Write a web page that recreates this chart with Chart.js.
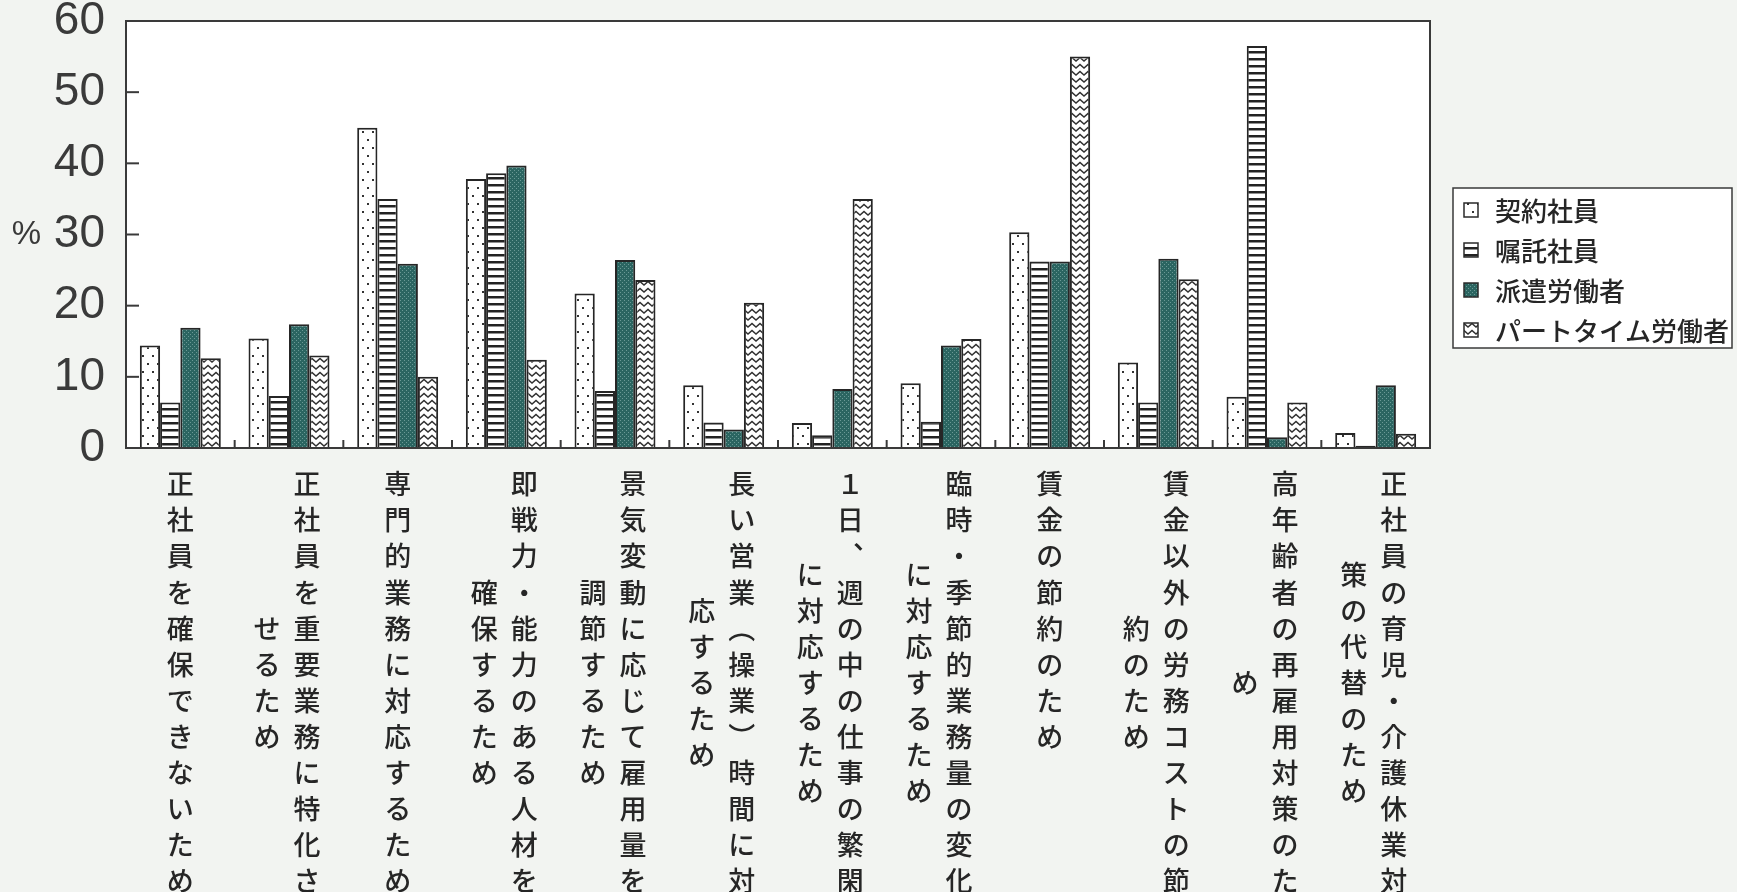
<!DOCTYPE html>
<html>
<head>
<meta charset="utf-8">
<script src="https://cdn.jsdelivr.net/npm/chart.js@4"></script>
<style>
html,body{margin:0;padding:0;background:#f2f4f1;}
#wrap{width:1737px;height:892px;position:relative;overflow:hidden;}
canvas{display:block;}
</style>
</head>
<body>
<div id="wrap"><canvas id="c" width="1737" height="892"></canvas></div>
<script>
// ---- data ----
const categories = [
  "正社員を確保できないため",
  "正社員を重要業務に特化させるため",
  "専門的業務に対応するため",
  "即戦力・能力のある人材を確保するため",
  "景気変動に応じて雇用量を調節するため",
  "長い営業（操業）時間に対応するため",
  "１日、週の中の仕事の繁閑に対応するため",
  "臨時・季節的業務量の変化に対応するため",
  "賃金の節約のため",
  "賃金以外の労務コストの節約のため",
  "高年齢者の再雇用対策のため",
  "正社員の育児・介護休業対策の代替のため"
];
const seriesNames = ["契約社員", "嘱託社員", "派遣労働者", "パートタイム労働者"];
const keiyaku   = [14.4, 15.4, 45.0, 37.8, 21.7, 8.8, 3.5, 9.1, 30.3, 12.0, 7.2, 2.1];
const shokutaku = [6.4, 7.3, 35.0, 38.6, 8.0, 3.6, 1.8, 3.7, 26.2, 6.4, 56.5, 0.3];
const haken     = [16.9, 17.4, 25.9, 39.7, 26.4, 2.6, 8.3, 14.4, 26.2, 26.6, 1.5, 8.8];
const part      = [12.6, 13.0, 10.0, 12.4, 23.6, 20.4, 35.0, 15.3, 55.0, 23.7, 6.4, 2.0];
const yTicks = [0, 10, 20, 30, 40, 50, 60];
const yUnit = "%";

// ---- fill patterns ----
function makePattern(w, h, draw) {
  const c = document.createElement('canvas');
  c.width = w; c.height = h;
  const g = c.getContext('2d');
  draw(g, w, h);
  return g.createPattern(c, 'repeat');
}
const pDots = makePattern(10, 16, (g) => {
  g.fillStyle = '#ffffff'; g.fillRect(0, 0, 10, 16);
  g.fillStyle = '#333333';
  g.fillRect(2, 3, 2, 2);
  g.fillRect(7, 11, 2, 2);
});
const pLines = makePattern(8, 7, (g) => {
  g.fillStyle = '#ffffff'; g.fillRect(0, 0, 8, 7);
  g.fillStyle = '#222222'; g.fillRect(0, 2, 8, 2.5);
});
const pTeal = makePattern(4, 4, (g) => {
  g.fillStyle = '#2b6561'; g.fillRect(0, 0, 4, 4);
  g.fillStyle = '#6a9995';
  g.fillRect(0, 0, 1, 1); g.fillRect(2, 2, 1, 1);
});
const pZig = makePattern(8, 7, (g) => {
  g.fillStyle = '#ffffff'; g.fillRect(0, 0, 8, 7);
  g.strokeStyle = '#303030'; g.lineWidth = 1.4;
  g.beginPath();
  g.moveTo(-4, 5); g.lineTo(0, 1.5); g.lineTo(4, 5); g.lineTo(8, 1.5); g.lineTo(12, 5);
  g.stroke();
});
const fills = [pDots, pLines, pTeal, pZig];
const seriesData = [keiyaku, shokutaku, haken, part];

const vertMap = {"、": "︑", "（": "︵", "）": "︶", "ー": "丨"};

const decor = {
  id: 'decor',
  beforeDraw(chart) {
    const {ctx, chartArea: a} = chart;
    ctx.save();
    ctx.fillStyle = '#f2f4f1';
    ctx.fillRect(0, 0, chart.width, chart.height);
    ctx.fillStyle = '#ffffff';
    ctx.fillRect(a.left, a.top, a.right - a.left, a.bottom - a.top);
    ctx.restore();
  },
  afterDraw(chart) {
    const {ctx, chartArea: a} = chart;
    const xs = chart.scales.x, ys = chart.scales.y;
    ctx.save();
    // frame
    ctx.strokeStyle = '#3a3a3a';
    ctx.lineWidth = 2;
    ctx.strokeRect(a.left, a.top, a.right - a.left, a.bottom - a.top);
    // inner y ticks
    yTicks.forEach(v => {
      const y = ys.getPixelForValue(v);
      ctx.beginPath(); ctx.moveTo(a.left, y); ctx.lineTo(a.left + 13, y); ctx.stroke();
    });
    // inner x ticks at category boundaries
    const n = categories.length;
    const step = (a.right - a.left) / n;
    for (let i = 1; i < n; i++) {
      const x = xs.getPixelForValue(i) - step / 2;
      ctx.beginPath(); ctx.moveTo(x, a.bottom); ctx.lineTo(x, a.bottom - 8); ctx.stroke();
    }
    // % unit
    ctx.fillStyle = '#3a3a3a';
    ctx.font = '33px "Liberation Sans", Arial, sans-serif';
    ctx.textAlign = 'right'; ctx.textBaseline = 'middle';
    ctx.fillText(yUnit, 41, ys.getPixelForValue(30));
    // vertical category labels
    ctx.font = '500 27px "Noto Sans CJK JP", sans-serif';
    ctx.textAlign = 'center'; ctx.textBaseline = 'middle';
    ctx.fillStyle = '#262626';
    const rowTop = 484, rowH = 36.1, colGap = 40, per = 12;
    categories.forEach((label, i) => {
      const chars = Array.from(label);
      const cols = [];
      for (let k = 0; k < chars.length; k += per) cols.push(chars.slice(k, k + per));
      const cx = xs.getPixelForValue(i);
      const nc = cols.length;
      cols.forEach((col, c) => {
        const x = cx + ((nc - 1) / 2 - c) * colGap + (nc > 1 ? -2 : 0);
        const off = (cols[0].length - col.length) / 2;
        col.forEach((ch, r) => {
          const y = rowTop + (r + off) * rowH;
          ctx.fillText(vertMap[ch] || ch, x, y);
        });
      });
    });
    // legend
    const lx = 1453, ly = 188, lw = 279, lh = 160;
    ctx.fillStyle = '#ffffff';
    ctx.fillRect(lx, ly, lw, lh);
    ctx.strokeStyle = '#3a3a3a'; ctx.lineWidth = 1.5;
    ctx.strokeRect(lx, ly, lw, lh);
    ctx.font = '500 26px "Noto Sans CJK JP", sans-serif';
    ctx.textAlign = 'left';
    chart.data.datasets.forEach((ds, k) => {
      const cy = 210 + k * 40;
      ctx.fillStyle = ds.backgroundColor;
      ctx.fillRect(1464, cy - 7, 14, 14);
      ctx.strokeStyle = '#2a2a2a'; ctx.lineWidth = 1.5;
      ctx.strokeRect(1464, cy - 7, 14, 14);
      ctx.fillStyle = '#262626';
      ctx.fillText(ds.label, 1495, cy + 1);
    });
    ctx.restore();
  }
};

new Chart(document.getElementById('c'), {
  type: 'bar',
  data: {
    labels: categories,
    datasets: seriesNames.map((name, k) => ({
      label: name,
      data: seriesData[k],
      backgroundColor: fills[k],
      borderColor: '#262626',
      borderWidth: 2,
      categoryPercentage: 0.745,
      barPercentage: 1.0
    }))
  },
  options: {
    responsive: false,
    animation: false,
    devicePixelRatio: 1,
    layout: {padding: {left: 0, top: 21, right: 307, bottom: 0}},
    plugins: {legend: {display: false}, tooltip: {enabled: false}},
    scales: {
      x: {
        grid: {display: false, drawTicks: false},
        border: {display: false},
        ticks: {display: false},
        afterFit: (s) => { s.height = 444; s.paddingLeft = 0; s.paddingRight = 0; }
      },
      y: {
        min: 0, max: 60,
        afterBuildTicks: (s) => { s.ticks = yTicks.map(v => ({value: v})); },
        grid: {display: false, drawTicks: false},
        border: {display: false},
        ticks: {
          padding: 21,
          color: '#3a3a3a',
          font: {family: '"Liberation Sans", Arial, sans-serif', size: 46}
        },
        afterFit: (s) => { s.width = 126; s.paddingTop = 0; s.paddingBottom = 0; }
      }
    }
  },
  plugins: [decor]
});
</script>
</body>
</html>
